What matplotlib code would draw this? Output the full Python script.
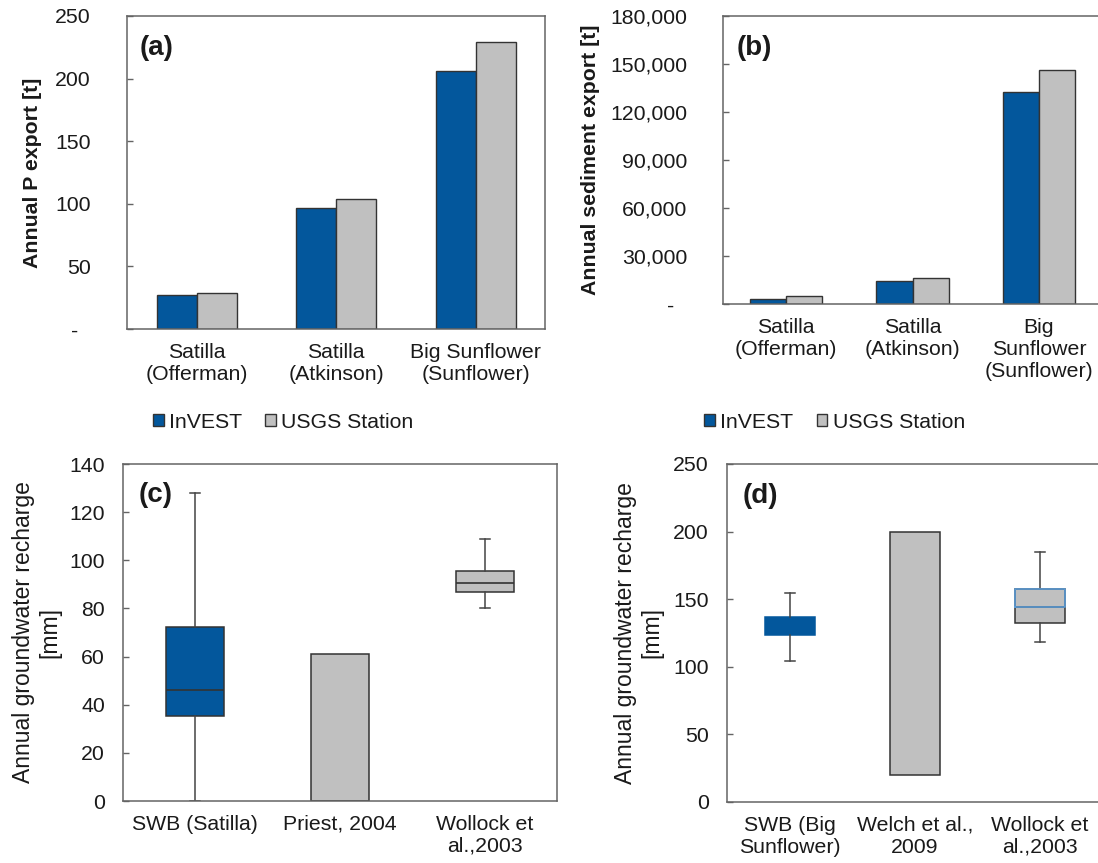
import numpy as np
import matplotlib
matplotlib.use('Agg')
import matplotlib.pyplot as plt
from matplotlib.ticker import FuncFormatter

plt.rcParams['font.family'] = ['Liberation Sans', 'DejaVu Sans']

BLUE = '#03579c'
GREY = '#c0c0c0'
EDGE = '#333333'
AXC = '#646464'
TXT = '#1a1a1a'
LBLUE = '#5b9bd5'

# (a), (b) annual export, InVEST vs USGS station
sites_a = ['Satilla\n(Offerman)', 'Satilla\n(Atkinson)', 'Big Sunflower\n(Sunflower)']
sites_b = ['Satilla\n(Offerman)', 'Satilla\n(Atkinson)', 'Big\nSunflower\n(Sunflower)']
p_invest = [27, 97, 206]
p_usgs = [29, 104, 229]
sed_invest = [3300, 14400, 132500]
sed_usgs = [4800, 16300, 146300]

# (c), (d) groundwater recharge: whislo, q1, med, q3, whishi
c_labels = ['SWB (Satilla)', 'Priest, 2004', 'Wollock et\nal.,2003']
c_swb = [0, 35.5, 46, 72.5, 128]
c_priest = 61
c_wollock = [80, 86.7, 90.6, 95.6, 108.8]

d_labels = ['SWB (Big\nSunflower)', 'Welch et al.,\n2009', 'Wollock et\nal.,2003']
d_swb = [104.5, 123.5, 130, 136.5, 154.5]
d_welch = [20, 200]   # low, high
d_wollock = [118, 132.5, 144, 157.5, 185]


def style(ax, pad):
    for s in ax.spines.values():
        s.set_color(AXC)
        s.set_linewidth(1.1)
    ax.tick_params(axis='y', direction='in', length=4, width=1, color=AXC,
                   labelsize=15.3, labelcolor=TXT, pad=pad)
    ax.tick_params(axis='x', length=0, labelsize=15.3, labelcolor=TXT, pad=10)
    ax.set_xlim(-0.5, 2.5)
    ax.set_xticks(range(3))


def stats(v):
    return dict(whislo=v[0], q1=v[1], med=v[2], q3=v[3], whishi=v[4])


def bars(ax, labels, inv, usgs):
    x = np.arange(len(labels))
    w = 0.287
    ax.bar(x - w / 2, inv, w, color=BLUE, edgecolor=EDGE, lw=1, label='InVEST')
    ax.bar(x + w / 2, usgs, w, color=GREY, edgecolor=EDGE, lw=1, label='USGS Station')
    ax.set_xticklabels(labels)


fig = plt.figure(figsize=(10.98, 8.63), dpi=100)

# ---- (a)
ax = fig.add_axes([0.1157, 0.6188, 0.3811, 0.3627])
style(ax, 26)
bars(ax, sites_a, p_invest, p_usgs)
ax.set_ylim(0, 250)
ax.set_yticks(np.arange(0, 251, 50))
ax.yaxis.set_major_formatter(FuncFormatter(lambda v, _: '-' if v == 0 else f'{v:.0f}'))
ax.yaxis.get_major_ticks()[0].set_pad(35)
ax.set_ylabel('Annual P export [t]', fontsize=15.3, fontweight='bold', color=TXT)
ax.yaxis.set_label_coords(-0.203, 0.5)
ax.text(0.029, 0.898, '(a)', transform=ax.transAxes, fontsize=20,
        fontweight='bold', color=TXT, ha='left', va='center')
ax.legend(loc='center', bbox_to_anchor=(0.258, 0.511), bbox_transform=fig.transFigure,
          ncol=2, frameon=False, fontsize=15.3, handlelength=0.5, handleheight=0.5,
          handletextpad=0.25, columnspacing=1.1, labelcolor=TXT)

# ---- (b)
ax = fig.add_axes([0.6585, 0.6477, 0.3452, 0.3337])
style(ax, 26)
bars(ax, sites_b, sed_invest, sed_usgs)
ax.set_ylim(0, 180000)
ax.set_yticks(np.arange(0, 180001, 30000))
ax.yaxis.set_major_formatter(FuncFormatter(lambda v, _: '-' if v == 0 else f'{v:,.0f}'))
ax.yaxis.get_major_ticks()[0].set_pad(35)
ax.set_ylabel('Annual sediment export [t]', fontsize=15.3, fontweight='bold', color=TXT)
ax.yaxis.set_label_coords(-0.3245, 0.5)
ax.text(0.037, 0.889, '(b)', transform=ax.transAxes, fontsize=20,
        fontweight='bold', color=TXT, ha='left', va='center')
ax.legend(loc='center', bbox_to_anchor=(0.760, 0.511), bbox_transform=fig.transFigure,
          ncol=2, frameon=False, fontsize=15.3, handlelength=0.5, handleheight=0.5,
          handletextpad=0.25, columnspacing=1.1, labelcolor=TXT)

# ---- (c)
ax = fig.add_axes([0.1120, 0.0718, 0.3953, 0.3905])
style(ax, 13)
bp = ax.bxp([stats(c_swb), stats(c_wollock)], positions=[0, 2], widths=0.4,
            capwidths=0.07, patch_artist=True, showfliers=False,
            whiskerprops=dict(color='#444444', lw=1.1),
            capprops=dict(color='#444444', lw=1.1),
            medianprops=dict(color=EDGE, lw=1.2))
bp['boxes'][0].set(facecolor=BLUE, edgecolor=EDGE, lw=1.1)
bp['boxes'][1].set(facecolor=GREY, edgecolor=EDGE, lw=1.1)
ax.bar(1, c_priest, 0.4, color=GREY, edgecolor=EDGE, lw=1.1)
ax.set_ylim(0, 140)
ax.set_yticks(np.arange(0, 141, 20))
ax.set_xticks(range(3))
ax.set_xticklabels(c_labels)
ax.set_ylabel('Annual groundwater recharge\n[mm]', fontsize=16.5, color=TXT)
ax.yaxis.set_label_coords(-0.141, 0.5)
ax.text(0.037, 0.908, '(c)', transform=ax.transAxes, fontsize=20,
        fontweight='bold', color=TXT, ha='left', va='center')

# ---- (d)
ax = fig.add_axes([0.6621, 0.0707, 0.3420, 0.3917])
style(ax, 13)
bp = ax.bxp([stats(d_swb), stats(d_wollock)], positions=[0, 2], widths=0.4,
            capwidths=0.08, patch_artist=True, showfliers=False,
            whiskerprops=dict(color='#444444', lw=1.1),
            capprops=dict(color='#444444', lw=1.1),
            medianprops=dict(color=EDGE, lw=1.2))
bp['boxes'][0].set(facecolor=BLUE, edgecolor=BLUE, lw=1.1)
bp['medians'][0].set_color(BLUE)
bp['boxes'][1].set(facecolor=GREY, edgecolor=EDGE, lw=1.1)
# upper half of the Wollock box drawn with a light blue outline
wl, q1, md, q3, wh = d_wollock
ax.plot([1.8, 1.8, 2.2, 2.2, 1.8], [md, q3, q3, md, md], color=LBLUE, lw=1.2, zorder=4)
ax.bar(1, d_welch[1] - d_welch[0], 0.4, bottom=d_welch[0], color=GREY,
       edgecolor=EDGE, lw=1.1)
ax.set_ylim(0, 250)
ax.set_yticks(np.arange(0, 251, 50))
ax.set_xticks(range(3))
ax.set_xticklabels(d_labels)
ax.set_ylabel('Annual groundwater recharge\n[mm]', fontsize=16.5, color=TXT)
ax.yaxis.set_label_coords(-0.170, 0.5)
ax.text(0.0426, 0.905, '(d)', transform=ax.transAxes, fontsize=20,
        fontweight='bold', color=TXT, ha='left', va='center')

fig.savefig('out.png', dpi=100)
